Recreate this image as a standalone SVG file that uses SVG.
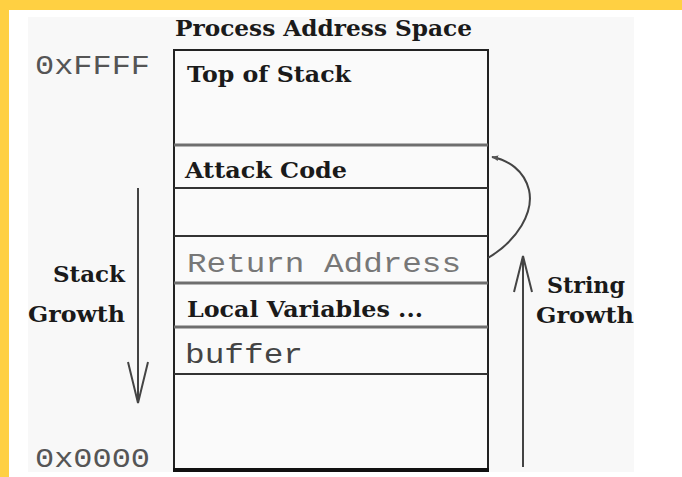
<svg xmlns="http://www.w3.org/2000/svg" width="682" height="477" viewBox="0 0 682 477">
<defs>
<style>
.serif{font-family:"DejaVu Serif","Liberation Serif",serif;font-weight:bold;font-size:23px;fill:#1a1a1a}
.mono{font-family:"Liberation Mono","DejaVu Sans Mono",monospace;font-size:28px}
.div-thin{stroke:#333;stroke-width:2}
.div-thick{stroke:#6e6e6e;stroke-width:3}
.arrow{fill:none;stroke:#444;stroke-width:2}
</style>
<marker id="barb" viewBox="0 0 10 10" refX="9" refY="5" markerWidth="7" markerHeight="7" orient="auto" markerUnits="userSpaceOnUse">
<path d="M0,1 L10,5 L0,9 Z" fill="#555"/>
</marker>
</defs>
<rect x="0" y="0" width="682" height="477" fill="#ffffff"/>
<rect x="28" y="17" width="606" height="455" fill="#f8f8f8"/>
<rect x="0" y="0" width="682" height="10" fill="#ffd042"/>
<rect x="0" y="0" width="9" height="477" fill="#ffd042"/>

<g id="title"><text class="serif" x="175" y="36" textLength="297" lengthAdjust="spacingAndGlyphs">Process Address Space</text></g>
<g id="addr-high"><text class="mono" x="35" y="74" fill="#555" textLength="115" lengthAdjust="spacingAndGlyphs">0xFFFF</text></g>
<g id="addr-low"><text class="mono" x="35" y="467" fill="#555" textLength="115" lengthAdjust="spacingAndGlyphs">0x0000</text></g>

<g id="stack-box">
<rect x="174" y="50" width="314" height="420" fill="#fafafa" stroke="#222" stroke-width="2"/>
<line x1="173" y1="470" x2="489" y2="470" stroke="#111" stroke-width="4"/>
</g>
<g id="top-of-stack"><text class="serif" x="187" y="82" textLength="164" lengthAdjust="spacingAndGlyphs">Top of Stack</text>
<line class="div-thick" x1="174" y1="145" x2="488" y2="145"/></g>
<g id="attack-code"><text class="serif" x="185" y="178" textLength="162" lengthAdjust="spacingAndGlyphs">Attack Code</text>
<line class="div-thin" x1="174" y1="188" x2="488" y2="188"/></g>
<g id="gap"><line class="div-thin" x1="174" y1="236" x2="488" y2="236"/></g>
<g id="return-address"><text class="mono" x="187" y="272" fill="#777" textLength="274" lengthAdjust="spacingAndGlyphs">Return Address</text>
<line class="div-thick" x1="174" y1="283" x2="488" y2="283"/></g>
<g id="local-variables"><text class="serif" x="187" y="317" textLength="236" lengthAdjust="spacingAndGlyphs">Local Variables ...</text>
<line class="div-thick" x1="174" y1="327" x2="488" y2="327"/></g>
<g id="buffer"><text class="mono" x="185" y="363" fill="#444" textLength="118" lengthAdjust="spacingAndGlyphs">buffer</text>
<line class="div-thin" x1="174" y1="374" x2="488" y2="374"/></g>

<g id="stack-growth-label">
<text class="serif" x="53" y="282" textLength="72" lengthAdjust="spacingAndGlyphs">Stack</text>
<text class="serif" x="28" y="322" textLength="97" lengthAdjust="spacingAndGlyphs">Growth</text>
</g>
<g id="string-growth-label">
<text class="serif" x="547" y="293" textLength="78" lengthAdjust="spacingAndGlyphs">String</text>
<text class="serif" x="536" y="323" textLength="98" lengthAdjust="spacingAndGlyphs">Growth</text>
</g>

<g id="connectors">
<g id="stack-growth-arrow">
<line class="arrow" x1="138" y1="188" x2="138" y2="402"/>
<polyline class="arrow" points="128,362 138,403 148,362"/>
</g>
<g id="string-growth-arrow">
<line class="arrow" stroke="#666" x1="523" y1="467" x2="523" y2="257"/>
<polyline class="arrow" points="514,292 523,256 532,292"/>
</g>
<path id="jump-arrow" class="arrow" stroke="#666" d="M488,258 C518,240 534,212 529,190 C524,170 508,160 492,157" marker-end="url(#barb)"/>
</g>
</svg>
